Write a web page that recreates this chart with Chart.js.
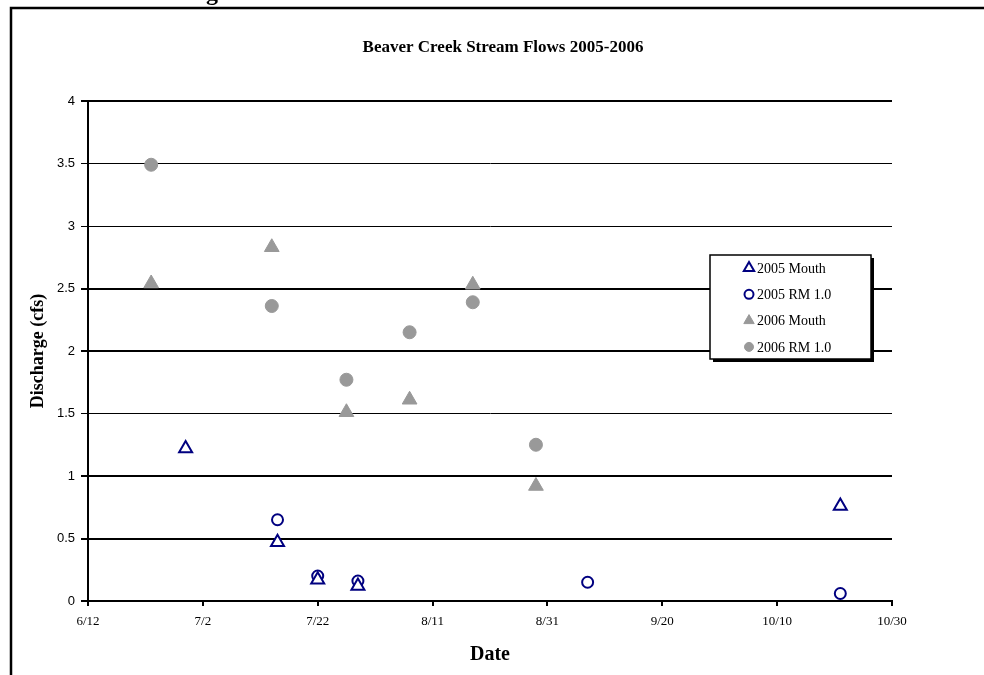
<!DOCTYPE html>
<html>
<head>
<meta charset="utf-8">
<title>Beaver Creek Stream Flows 2005-2006</title>
<script src="https://cdn.jsdelivr.net/npm/chart.js@4.4.1/dist/chart.umd.min.js"></script>
<style>
  html, body { margin: 0; padding: 0; background: #fff; }
  #wrap { position: relative; width: 984px; height: 675px; }
</style>
</head>
<body>
<div id="wrap"><canvas id="flowChart"></canvas></div>
<script>
// tick labels for the date axis (every 20 days)
const xTickLabels = ["6/12", "7/2", "7/22", "8/11", "8/31", "9/20", "10/10", "10/30"];

// 2005 measurements
const mouth2005Dates = ["6/29", "7/15", "7/22", "7/29", "10/21"];
const mouth2005Flow = [1.22, 0.47, 0.17, 0.12, 0.76];
const rm2005Dates = ["7/15", "7/22", "7/29", "9/7", "10/21"];
const rm2005Flow = [0.65, 0.20, 0.16, 0.15, 0.06];

// 2006 measurements
const mouth2006Dates = ["6/23", "7/14", "7/27", "8/7", "8/18", "8/29"];
const mouth2006Flow = [2.54, 2.83, 1.51, 1.61, 2.53, 0.92];
const rm2006Dates = ["6/23", "7/14", "7/27", "8/7", "8/18", "8/29"];
const rm2006Flow = [3.49, 2.36, 1.77, 2.15, 2.39, 1.25];

const monthStart = [0, 31, 59, 90, 120, 151, 181, 212, 243, 273, 304, 334];

function dayOfYear(md) {
    const [m, d] = md.split("/").map(Number);
    return monthStart[m - 1] + d;
}

function points(dates, flows) {
    return dates.map((d, i) => ({ x: dayOfYear(d), y: flows[i] }));
}

const navy = "#000080";
const grey = "#999999";
const serif = "'Liberation Serif', 'Times New Roman', serif";
const sans = "'Liberation Sans', Arial, sans-serif";

function drawMarker(ctx, style, x, y, r, fill, stroke, lw) {
    ctx.beginPath();
    if (style === "triangle") {
        ctx.moveTo(x, y - r);
        ctx.lineTo(x + r * 0.866, y + r / 2);
        ctx.lineTo(x - r * 0.866, y + r / 2);
        ctx.closePath();
    } else {
        ctx.arc(x, y, r, 0, Math.PI * 2);
    }
    ctx.fillStyle = fill;
    ctx.fill();
    ctx.lineWidth = lw;
    ctx.strokeStyle = stroke;
    ctx.stroke();
}

// white page, outer chart frame and the cut-off heading above it
const framePlugin = {
    id: "frame",
    beforeDraw(chart) {
        const ctx = chart.ctx;
        ctx.save();
        ctx.fillStyle = "#fff";
        ctx.fillRect(0, 0, chart.width, chart.height);
        ctx.strokeStyle = "#000";
        ctx.lineWidth = 2.5;
        ctx.beginPath();
        ctx.moveTo(11, chart.height);
        ctx.lineTo(11, 8);
        ctx.lineTo(chart.width, 8);
        ctx.stroke();
        ctx.fillStyle = "#000";
        ctx.font = "bold 24px " + serif;
        ctx.textBaseline = "alphabetic";
        ctx.fillText("g", 206, 0);
        ctx.restore();
    }
};

// boxed legend with drop shadow, inside the plot
const boxLegend = {
    id: "boxLegend",
    afterDraw(chart) {
        const ctx = chart.ctx;
        const x = 710, y = 255, w = 161, h = 104;
        ctx.save();
        ctx.fillStyle = "#000";
        ctx.fillRect(x + 3, y + 3, w, h);
        ctx.fillStyle = "#fff";
        ctx.fillRect(x, y, w, h);
        ctx.strokeStyle = "#000";
        ctx.lineWidth = 1.5;
        ctx.strokeRect(x, y, w, h);
        ctx.font = "14px " + serif;
        ctx.textBaseline = "middle";
        chart.data.datasets.forEach((ds, i) => {
            const cy = y + 13 + i * 26.3;
            const r = ds.pointStyle === "triangle" ? 6 : 4.5;
            drawMarker(ctx, ds.pointStyle, 749, cy, r, ds.pointBackgroundColor, ds.pointBorderColor, ds.pointBorderWidth);
            ctx.fillStyle = "#000";
            ctx.fillText(ds.label, 757, cy + 1);
        });
        ctx.restore();
    }
};

new Chart("flowChart", {
    type: "scatter",
    data: {
        datasets: [
            {
                label: "2005 Mouth",
                data: points(mouth2005Dates, mouth2005Flow),
                pointStyle: "triangle",
                pointRadius: 7.5,
                pointBackgroundColor: "#ffffff",
                pointBorderColor: navy,
                pointBorderWidth: 2
            },
            {
                label: "2005 RM 1.0",
                data: points(rm2005Dates, rm2005Flow),
                pointStyle: "circle",
                pointRadius: 5.5,
                pointBackgroundColor: "#ffffff",
                pointBorderColor: navy,
                pointBorderWidth: 2
            },
            {
                label: "2006 Mouth",
                data: points(mouth2006Dates, mouth2006Flow),
                pointStyle: "triangle",
                pointRadius: 8.5,
                pointBackgroundColor: grey,
                pointBorderColor: grey,
                pointBorderWidth: 1
            },
            {
                label: "2006 RM 1.0",
                data: points(rm2006Dates, rm2006Flow),
                pointStyle: "circle",
                pointRadius: 6.5,
                pointBackgroundColor: grey,
                pointBorderColor: grey,
                pointBorderWidth: 1
            }
        ]
    },
    options: {
        responsive: true,
        maintainAspectRatio: false,
        animation: false,
        events: [],
        layout: { padding: { left: 22, top: 0, right: 0, bottom: 0 } },
        plugins: {
            legend: { display: false },
            tooltip: { enabled: false },
            title: {
                display: true,
                text: "Beaver Creek Stream Flows 2005-2006",
                color: "#000",
                font: { family: serif, size: 17, weight: "bold", lineHeight: 1.2 },
                padding: { top: 37, bottom: 43.6 }
            }
        },
        scales: {
            x: {
                type: "linear",
                min: dayOfYear(xTickLabels[0]),
                max: dayOfYear(xTickLabels[xTickLabels.length - 1]),
                afterFit(scale) { scale.height = 74; },
                border: { display: true, color: "#000", width: 2 },
                grid: { drawOnChartArea: false, drawTicks: true, tickLength: 5, color: "#000", lineWidth: 2 },
                ticks: {
                    stepSize: 20,
                    padding: 8,
                    color: "#000",
                    font: { family: serif, size: 13 },
                    maxRotation: 0,
                    autoSkip: false,
                    callback: (value, index) => xTickLabels[index]
                },
                title: {
                    display: true,
                    text: "Date",
                    color: "#000",
                    font: { family: serif, size: 20, weight: "bold", lineHeight: 1.2 },
                    padding: { top: 0, bottom: 8 }
                }
            },
            y: {
                min: 0,
                max: 4,
                afterFit(scale) { scale.width = 66; },
                border: { display: true, color: "#000", width: 2 },
                grid: {
                    color: "#000",
                    lineWidth: c => [1.5, 3, 3.5].includes(c.tick && c.tick.value) ? 1 : 2,
                    drawTicks: true,
                    tickLength: 7,
                    tickColor: "#000"
                },
                ticks: {
                    stepSize: 0.5,
                    padding: 6,
                    color: "#000",
                    font: { family: sans, size: 13 },
                    callback: value => String(value)
                },
                title: {
                    display: true,
                    text: "Discharge (cfs)",
                    color: "#000",
                    font: { family: serif, size: 18, weight: "bold", lineHeight: 1.2 },
                    padding: { top: 6, bottom: 0 }
                }
            },
            // empty right-hand axis keeps the plot's right edge where the original has it
            yRight: {
                type: "linear",
                position: "right",
                display: true,
                afterFit(scale) { scale.width = 92; },
                border: { display: false },
                grid: { display: false },
                ticks: { display: false }
            }
        }
    },
    plugins: [framePlugin, boxLegend]
});
</script>
</body>
</html>
